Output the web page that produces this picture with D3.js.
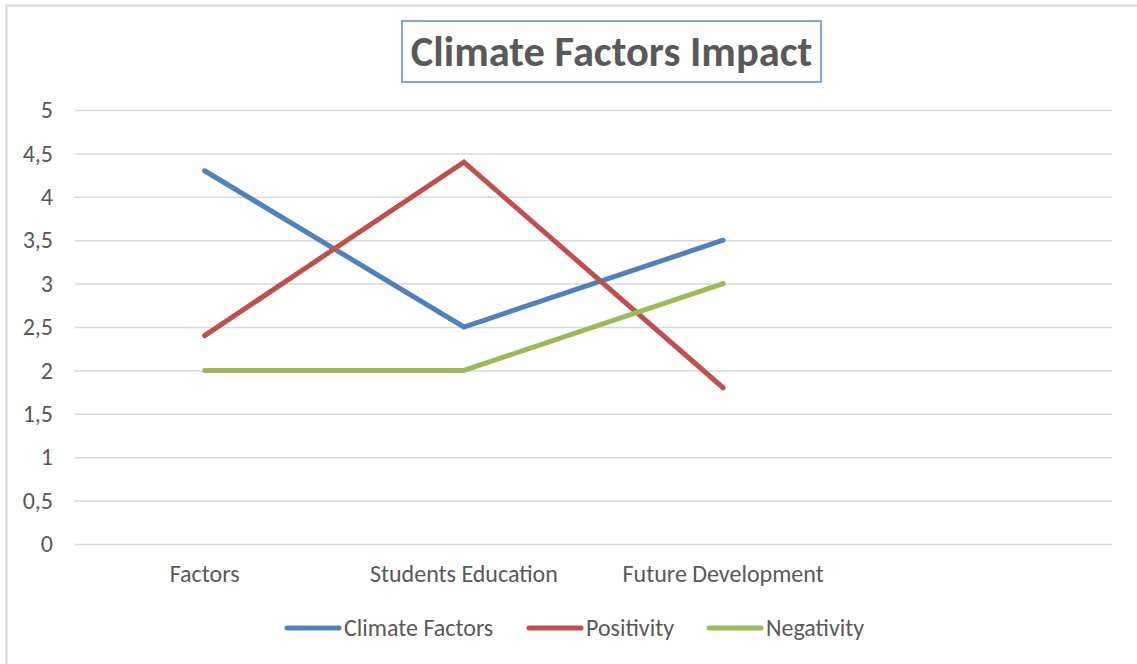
<!DOCTYPE html>
<html>
<head>
<meta charset="utf-8">
<script src="https://cdn.jsdelivr.net/npm/d3@7"></script>
<style>
  html, body { margin: 0; padding: 0; background: #fff; }
  svg { display: block; font-family: Carlito, Lato, "Open Sans", sans-serif; }
</style>
</head>
<body>
<svg id="chart" width="1137" height="664"></svg>
<script>
const categories = ["Factors", "Students Education", "Future Development", ""];
const seriesNames = ["Climate Factors", "Positivity", "Negativity"];
const climateFactors = [4.3, 2.5, 3.5];
const positivity = [2.4, 4.4, 1.8];
const negativity = [2, 2, 3];
const yTicks = [0, 0.5, 1, 1.5, 2, 2.5, 3, 3.5, 4, 4.5, 5];
const colors = ["#4F81BD", "#C0504D", "#9BBB59"];
const titleText = "Climate Factors Impact";

const FONT = "Carlito, Lato, 'Open Sans', sans-serif";
const svg = d3.select("#chart");
const W = 1137, H = 664;
const plot = { left: 75, right: 1112, top: 110, bottom: 544 };

// outer border (left/top visible)
svg.append("rect").attr("x", 6.5).attr("y", 5.5).attr("width", W).attr("height", H)
  .attr("fill", "none").attr("stroke", "#d9d9d9").attr("stroke-width", 2);

const x = d3.scaleBand().domain(categories).range([plot.left, plot.right]).padding(0);
const y = d3.scaleLinear().domain([0, 5]).range([plot.bottom, plot.top]);
const fmt = v => String(v).replace(".", ",");

// y axis with gridlines
const yAxis = svg.append("g").attr("transform", `translate(${plot.left},0)`)
  .call(d3.axisLeft(y).tickValues(yTicks).tickFormat(fmt)
    .tickSize(-(plot.right - plot.left)).tickPadding(22));
yAxis.attr("font-family", FONT).attr("font-size", 24);
yAxis.select(".domain").remove();
yAxis.selectAll(".tick line").attr("stroke", "#d9d9d9").attr("stroke-width", 1.5);
yAxis.selectAll(".tick text").attr("fill", "#595959");

// x axis labels
const xAxis = svg.append("g").attr("transform", `translate(0,${plot.bottom})`)
  .call(d3.axisBottom(x).tickSize(0).tickPadding(21));
xAxis.attr("font-family", FONT).attr("font-size", 24);
xAxis.select(".domain").remove();
xAxis.selectAll(".tick text").attr("fill", "#595959");

// lines
const seriesData = [climateFactors, positivity, negativity];
const line = d3.line()
  .x((d, i) => x(categories[i]) + x.bandwidth() / 2)
  .y(d => y(d));
seriesData.forEach((vals, k) => {
  svg.append("path").datum(vals).attr("d", line)
    .attr("fill", "none").attr("stroke", colors[k]).attr("stroke-width", 5)
    .attr("stroke-linecap", "round").attr("stroke-linejoin", "miter");
});

// title
const tg = svg.append("g");
tg.append("rect").attr("x", 402).attr("y", 21).attr("width", 419).attr("height", 61)
  .attr("fill", "#fff").attr("stroke", "#5b8ccb").attr("stroke-width", 1.5);
tg.append("text").attr("x", 611.5).attr("y", 66).attr("text-anchor", "middle")
  .attr("fill", "#595959").style("font-size", "42.5px").style("font-weight", "bold")
  .text(titleText);

// legend
const legendX = [287, 529, 709];
const lg = svg.append("g");
seriesNames.forEach((name, k) => {
  const g = lg.append("g").attr("transform", `translate(${legendX[k]},628)`);
  g.append("line").attr("x1", 0).attr("x2", 52).attr("y1", 0).attr("y2", 0)
    .attr("stroke", colors[k]).attr("stroke-width", 5).attr("stroke-linecap", "round");
  g.append("text").attr("x", 57).attr("y", 0).attr("dy", "0.35em")
    .attr("fill", "#595959").style("font-size", "24px").text(name);
});
</script>
</body>
</html>
